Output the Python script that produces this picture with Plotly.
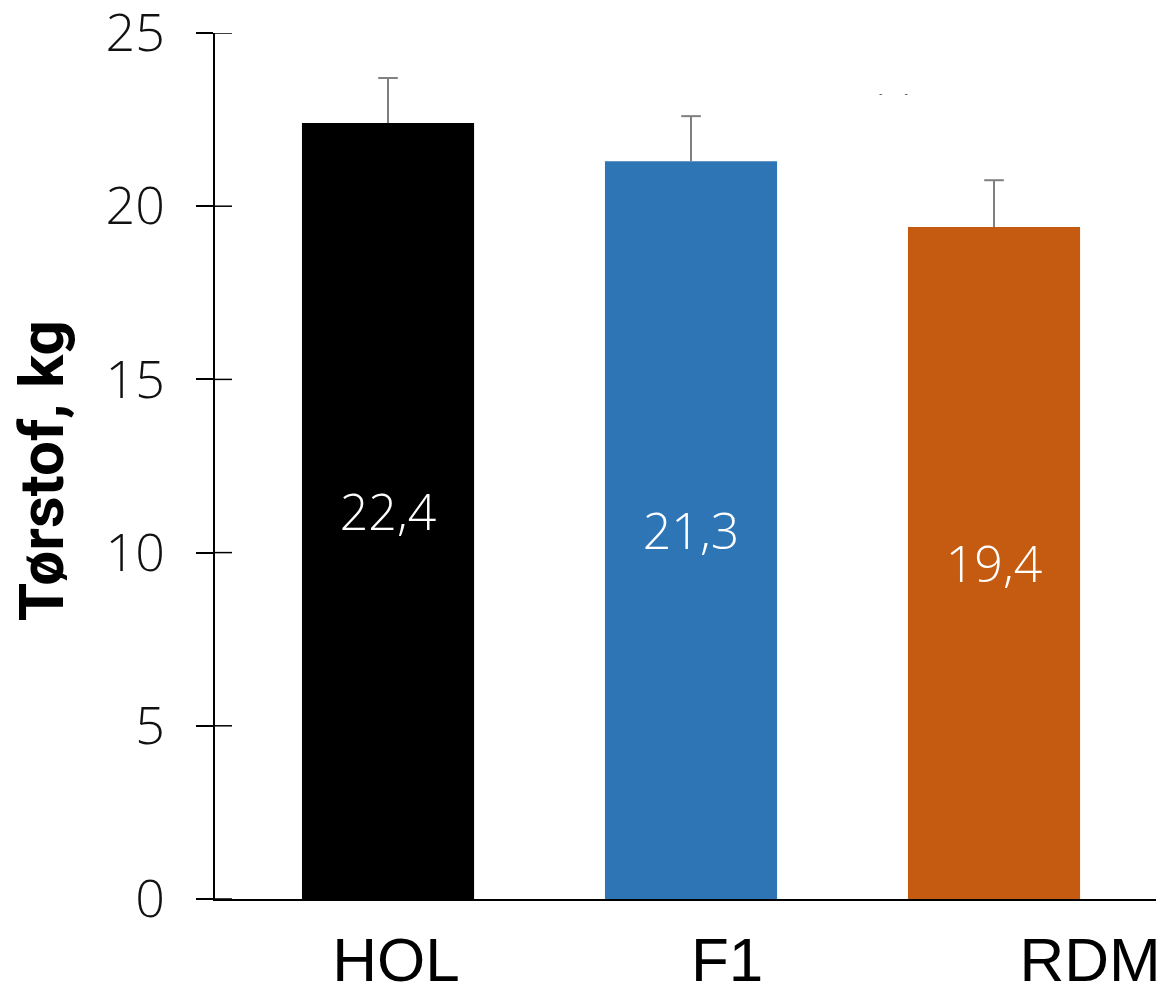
import plotly.graph_objects as go

# ---- data ----
categories = ["HOL", "F1", "RDM"]
values = [22.4, 21.3, 19.4]
errors = [1.3, 1.3, 1.35]
colors = ["#000000", "#2E75B6", "#C55A11"]
y_ticks = [0, 5, 10, 15, 20, 25]
y_title = "Tørstof, kg"

# ---- style / layout constants ----
x_pos = list(range(len(categories)))
label_shift = [0.026, 0.119, 0.317]   # category labels sit right of bar centres in the reference
tick_font = dict(family="Open Sans, Lato, sans-serif", size=52, color="#111111", weight=300)
err_color = "#7f7f7f"

fig = go.Figure()
fig.add_trace(go.Bar(
    x=x_pos,
    y=values,
    width=0.568,
    marker=dict(color=colors, line=dict(width=0)),
    text=values,
    texttemplate="%{y:.1f}",
    textposition="inside",
    insidetextanchor="middle",
    textangle=0,
    textfont=dict(family="Open Sans, Lato, sans-serif", size=50, color="white", weight=300),
    error_y=dict(type="data", array=errors, arrayminus=[0] * len(errors),
                 symmetric=False, color=err_color, thickness=2, width=0),
    hoverinfo="skip",
    showlegend=False,
))
# caps on top of the error bars only
fig.add_trace(go.Scatter(
    x=x_pos,
    y=[v + e for v, e in zip(values, errors)],
    mode="markers",
    marker=dict(symbol="line-ew", size=14, line=dict(color=err_color, width=2)),
    hoverinfo="skip",
    showlegend=False,
))

# inner half of the cross-style y ticks (outer half is the axis' own ticks)
inner_ticks = [
    dict(type="line", xref="paper", xsizemode="pixel", xanchor=0, x0=0, x1=17,
         yref="y", y0=t, y1=t, line=dict(color="black", width=1.5), layer="above")
    for t in y_ticks
]

# the page body has an 8px default margin, so the figure is 8px smaller and margins compensate
fig.update_layout(
    width=1156,
    height=980,
    margin=dict(l=207, r=0, t=25, b=89),
    paper_bgcolor="white",
    plot_bgcolor="white",
    separators=",.",
    shapes=inner_ticks,
    xaxis=dict(
        range=[-0.571, 2.561],
        tickmode="array",
        tickvals=[p + s for p, s in zip(x_pos, label_shift)],
        ticktext=categories,
        ticks="",
        showline=True,
        linecolor="black",
        linewidth=1.5,
        showgrid=False,
        zeroline=False,
        automargin=False,
        ticklabeloverflow="allow",
        tickfont=dict(family="Liberation Sans, Arial, sans-serif", size=62, color="black"),
        ticklabelstandoff=6,
    ),
    yaxis=dict(
        range=[0, 25],
        tickmode="array",
        tickvals=y_ticks,
        ticks="outside",
        ticklen=17,
        tickwidth=1.5,
        tickcolor="black",
        showline=True,
        linecolor="black",
        linewidth=1.5,
        showgrid=False,
        zeroline=False,
        automargin=False,
        ticklabeloverflow="allow",
        tickfont=tick_font,
        ticklabelstandoff=21,
    ),
    annotations=[
        dict(
            text=y_title,
            xref="paper", yref="paper",
            x=0, y=0.494,
            xanchor="center", yanchor="middle",
            xshift=-174,
            textangle=-90,
            showarrow=False,
            font=dict(family="Roboto, Liberation Sans, Arial, sans-serif", size=62, color="black", weight="bold"),
        ),
        dict(
            text="-&nbsp;&nbsp;&nbsp;&nbsp;&nbsp;&nbsp;&nbsp;&nbsp;-",
            xref="paper", yref="paper",
            x=(893 - 215) / 949, y=(899 - 94) / 866,
            xanchor="center", yanchor="middle",
            showarrow=False,
            font=dict(family="Liberation Sans, Arial, sans-serif", size=10, color="#555555"),
        ),
    ],
)

fig.write_html("out.html")
